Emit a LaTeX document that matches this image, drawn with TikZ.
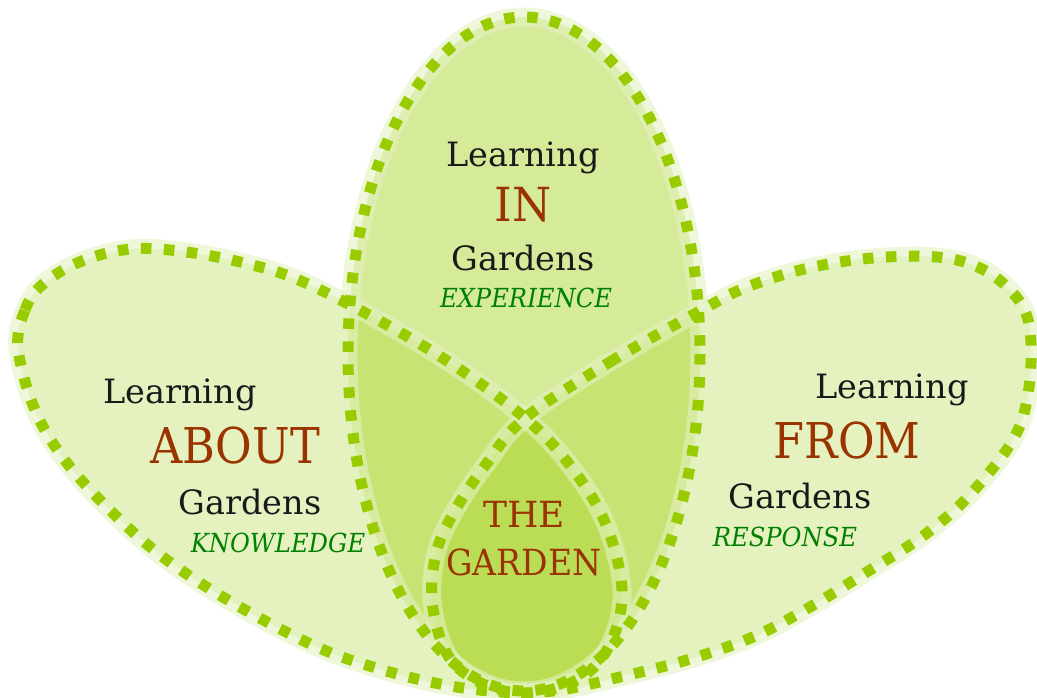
\documentclass[tikz,border=0pt]{standalone}
\usepackage{fontspec}
\setmainfont{DejaVu Serif}
\definecolor{dashgreen}{HTML}{99CC00}
\definecolor{halo}{HTML}{E3F2C0}
\definecolor{rust}{HTML}{993300}
\definecolor{txtgreen}{HTML}{008000}
\tikzset{
  petalfill/.style={fill=dashgreen, fill opacity=0.25},
  topfill/.style={fill=dashgreen, fill opacity=0.40},
  halostroke/.style={draw=halo, line width=19pt, draw opacity=0.6},
  dashstroke/.style={draw=dashgreen, line width=11pt, dash pattern=on 10.5pt off 12.5pt},
  word/.style={font=\fontsize{33.5}{33.5}\selectfont, text=black!90, inner sep=0pt, anchor=base},
  bigword/.style={font=\fontsize{47}{47}\selectfont, text=rust, inner sep=0pt, anchor=base},
  midword/.style={font=\fontsize{36}{36}\selectfont, text=rust, inner sep=0pt, anchor=base},
  tagword/.style={font=\fontsize{25}{25}\selectfont\itshape, text=txtgreen, inner sep=0pt, anchor=base},
}
\begin{document}
\begin{tikzpicture}[x=1pt, y=-1pt]
\useasboundingbox (0,0) rectangle (1037,697);
% shapes
\path[save path=\leftpetal] plot[smooth cycle, tension=0.6] coordinates {
  (18,348) (25,310) (42,285) (77,263) (123,250) (170,250) (240,262) (310,285)
  (430,350) (525,418) (575,472) (607,527) (622,590) (612,640) (585,675) (540,692)
  (490,691) (440,684) (383,670) (317,647) (233,603) (167,560) (117,517) (67,463) (35,410)};
\path[save path=\rightpetal] plot[smooth cycle, tension=0.6] coordinates {
  (525,418) (610,362) (700,311) (747,287) (813,267) (887,257) (957,260) (1005,285)
  (1030,330) (1022,420) (977,487) (927,533) (870,570) (810,607) (753,637) (687,660)
  (620,677) (560,690) (510,692) (470,677) (445,650) (432,600) (437,550) (457,507) (487,463)};
\path[save path=\topoval] (524,354) ellipse [x radius=176, y radius=337];
% fills
\path[petalfill, use path=\leftpetal];
\path[petalfill, use path=\rightpetal];
\path[topfill, use path=\topoval];
% halos
\path[halostroke, use path=\leftpetal];
\path[halostroke, use path=\rightpetal];
\path[halostroke, use path=\topoval];
% dashed outlines
\path[dashstroke, use path=\leftpetal];
\path[dashstroke, use path=\rightpetal];
\path[dashstroke, use path=\topoval];
% texts: top
\node[word] (inL) at (523,166) {Learning};
\node[bigword] (inW) at (523,221) {\scalebox{0.95}[1.0]{IN}};
\node[word] (inG) at (523,270) {Gardens};
\node[tagword] (inT) at (526,307) {\scalebox{0.97}[1.05]{EXPERIENCE}};
% texts: left
\node[word] (abL) at (180,403) {Learning};
\node[bigword] (abW) at (235,463) {\scalebox{0.95}[1.05]{ABOUT}};
\node[word] (abG) at (250,514) {Gardens};
\node[tagword] (abT) at (278,552) {\scalebox{0.97}[1.05]{KNOWLEDGE}};
% texts: right
\node[word] (frL) at (892,398) {Learning};
\node[bigword] (frW) at (847,458) {\scalebox{0.95}[1.05]{FROM}};
\node[word] (frG) at (800,508) {Gardens};
\node[tagword] (frT) at (785,546) {\scalebox{0.97}[1.05]{RESPONSE}};
% centre
\node[midword] (gT) at (524,527) {THE};
\node[midword] (gG) at (524,575) {\scalebox{0.92}[1.0]{GARDEN}};
\end{tikzpicture}
\end{document}
